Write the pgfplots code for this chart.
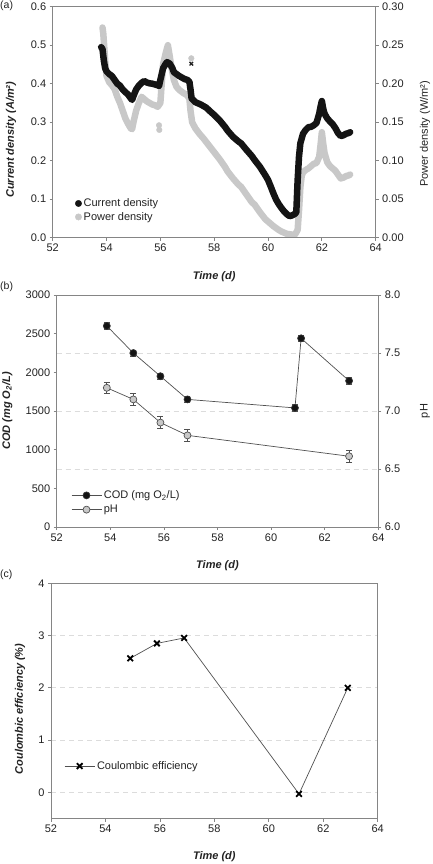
\documentclass[border=0pt]{standalone}
\usepackage{pgfplots}
\pgfplotsset{compat=1.18}
\usepackage{fontspec}
\setmainfont{Liberation Sans}
\definecolor{axgray}{HTML}{858585}
\definecolor{lgray}{HTML}{C8C8C8}
\definecolor{lingray}{HTML}{505050}
\definecolor{gridgray}{HTML}{DCDCDC}
\definecolor{txt}{HTML}{222222}

\pgfplotstableread{
x y
53.80 0.495
53.85 0.490
53.90 0.460
53.95 0.440
54.00 0.432
54.10 0.425
54.20 0.420
54.30 0.410
54.40 0.400
54.50 0.395
54.60 0.385
54.70 0.378
54.80 0.372
54.90 0.362
54.95 0.358
55.00 0.368
55.10 0.385
55.20 0.395
55.30 0.402
55.40 0.407
55.50 0.403
55.60 0.401
55.70 0.400
55.80 0.398
55.90 0.396
55.95 0.394
56.00 0.410
56.05 0.425
56.10 0.440
56.20 0.452
56.25 0.456
56.35 0.452
56.45 0.440
56.50 0.430
56.60 0.425
56.70 0.420
56.80 0.416
56.90 0.412
57.00 0.410
57.08 0.405
57.12 0.385
57.16 0.362
57.30 0.352
57.50 0.346
57.70 0.338
57.90 0.325
58.00 0.319
58.20 0.305
58.40 0.288
58.50 0.278
58.70 0.262
58.90 0.250
59.00 0.245
59.20 0.228
59.40 0.212
59.50 0.202
59.70 0.184
59.90 0.162
60.00 0.150
60.10 0.133
60.20 0.115
60.30 0.099
60.40 0.087
60.50 0.077
60.60 0.068
60.70 0.061
60.80 0.056
60.90 0.058
61.00 0.062
61.05 0.066
61.10 0.150
61.15 0.210
61.20 0.245
61.30 0.270
61.40 0.280
61.50 0.287
61.60 0.288
61.70 0.292
61.80 0.298
61.85 0.310
61.90 0.322
61.95 0.340
62.00 0.355
62.05 0.335
62.10 0.322
62.20 0.310
62.30 0.302
62.40 0.295
62.50 0.285
62.60 0.272
62.70 0.264
62.80 0.266
62.90 0.270
63.00 0.272
63.05 0.274
}\currenttab

\pgfplotstableread{
x y
53.85 0.273
53.88 0.265
53.92 0.245
53.96 0.225
54.00 0.210
54.10 0.202
54.20 0.198
54.30 0.193
54.40 0.183
54.50 0.175
54.60 0.165
54.70 0.155
54.80 0.148
54.90 0.142
54.95 0.141
55.00 0.150
55.10 0.165
55.20 0.175
55.30 0.183
55.40 0.180
55.50 0.177
55.60 0.175
55.70 0.173
55.80 0.172
55.90 0.170
56.00 0.175
56.05 0.200
56.10 0.225
56.20 0.240
56.28 0.250
56.35 0.235
56.42 0.220
56.50 0.205
56.60 0.196
56.70 0.192
56.85 0.188
57.00 0.185
57.08 0.180
57.12 0.165
57.18 0.150
57.30 0.142
57.45 0.135
57.60 0.129
57.80 0.120
58.00 0.111
58.20 0.102
58.40 0.092
58.50 0.086
58.70 0.077
58.90 0.069
59.00 0.066
59.20 0.056
59.40 0.046
59.50 0.043
59.70 0.033
59.90 0.024
60.00 0.021
60.20 0.015
60.40 0.010
60.50 0.008
60.70 0.005
60.90 0.004
61.00 0.004
61.10 0.010
61.15 0.035
61.20 0.065
61.25 0.080
61.30 0.085
61.40 0.088
61.50 0.090
61.60 0.093
61.70 0.096
61.80 0.097
61.90 0.105
61.95 0.120
62.00 0.137
62.05 0.122
62.10 0.110
62.20 0.098
62.30 0.093
62.40 0.090
62.50 0.087
62.60 0.082
62.70 0.077
62.80 0.078
62.90 0.080
63.00 0.081
63.05 0.082
}\powertab

\pgfplotstableread{
x y e
53.87 2600 40
54.86 2250 40
55.87 1950 40
56.88 1650 40
60.89 1540 40
61.12 2440 40
62.91 1890 40
}\codtab

\pgfplotstableread{
x y e
53.87 7.20 0.05
54.86 7.10 0.05
55.87 6.90 0.05
56.88 6.79 0.05
62.91 6.61 0.05
}\phtab

\pgfplotstableread{
x y
54.91 2.565
55.89 2.85
56.89 2.955
61.11 -0.03
62.90 2.00
}\cetab

\pgfplotsset{
  every axis/.append style={
    scale only axis,
    axis line style={axgray, line width=0.8pt},
    tick style={axgray, line width=0.8pt},
    major tick length=3pt,
    tick align=outside,
    tick label style={font=\fontsize{11}{13}\selectfont, text=txt},
    label style={font=\fontsize{11}{13}\selectfont\bfseries\itshape, text=txt},
    /pgf/number format/assume math mode=true,
    xmin=52, xmax=64, xtick={52,54,...,64},
    legend style={draw=none, fill=none, font=\fontsize{11}{13}\selectfont, text=txt},
    legend cell align=left,
  },
}

\begin{document}
\begin{tikzpicture}[x=1pt,y=1pt]
\path[use as bounding box] (0,0) rectangle (432,-864);

\node[anchor=west, inner sep=0pt, font=\fontsize{10.5}{12}\selectfont, text=txt] at (0,-6) {(a)};
\node[anchor=west, inner sep=0pt, font=\fontsize{10.5}{12}\selectfont, text=txt] at (0,-287) {(b)};
\node[anchor=west, inner sep=0pt, font=\fontsize{10.5}{12}\selectfont, text=txt] at (0,-575) {(c)};

% ---------- panel (a) ----------
\begin{axis}[at={(52.7pt,-237.7pt)}, anchor=south west, width=323pt, height=231pt,
  ymin=0, ymax=0.3, axis x line=none, axis y line*=right,
  ytick={0,0.05,...,0.31},
  yticklabel style={/pgf/number format/.cd, fixed, fixed zerofill, precision=2},
  ylabel={Power density (W/m²)},
  ylabel style={at={(axis description cs:1.153,0.45)}, anchor=center, font=\fontsize{11}{13}\selectfont},
]
\addplot[lgray, line width=6.5pt, line join=round, line cap=round] table[x=x,y=y] {\powertab};
\addplot[only marks, mark=*, mark size=2.8pt, lgray] coordinates {(55.95,0.146) (55.96,0.140) (57.15,0.233)};
\end{axis}

\begin{axis}[at={(52.7pt,-237.7pt)}, anchor=south west, width=323pt, height=231pt,
  ymin=0, ymax=0.6, ytick={0,0.1,...,0.61},
  ytick pos=left, xtick pos=bottom,
  yticklabel style={/pgf/number format/.cd, fixed, fixed zerofill, precision=1},
  xlabel={Time (d)}, ylabel={Current density (A/m²)},
  xlabel style={at={(axis description cs:0.5,-0.169)}, anchor=center},
  ylabel style={at={(axis description cs:-0.129,0.424)}, anchor=center},
  legend style={at={(axis description cs:0.06,0.119)}, anchor=west, row sep=0pt},
  legend image code/.code={\draw[#1] plot coordinates {(3pt,0pt)};},
]
\addplot[black!92, line width=6.5pt, line join=round, line cap=round, forget plot] table[x=x,y=y] {\currenttab};
\addplot[only marks, mark=x, mark size=2.5pt, mark options={line width=1.3pt}, black!85, forget plot] coordinates {(57.15,0.452)};
\addlegendimage{only marks, mark=*, mark size=3.2pt, black!92}
\addlegendentry{Current density}
\addlegendimage{only marks, mark=*, mark size=3.2pt, lgray}
\addlegendentry{Power density}
\end{axis}

% ---------- panel (b) ----------
\begin{axis}[at={(56.7pt,-527pt)}, anchor=south west, width=321.6pt, height=232pt,
  ymin=6, ymax=8, ytick={6,6.5,...,8.01}, axis x line=none, axis y line*=right,
  yticklabel style={/pgf/number format/.cd, fixed, fixed zerofill, precision=1},
  ymajorgrids, major grid style={gridgray, dash pattern=on 5pt off 4pt, line width=0.8pt},
  ylabel={pH},
  ylabel style={at={(axis description cs:1.145,0.5)}, anchor=center, font=\fontsize{11}{13}\selectfont},
]
\addplot[lingray, line width=0.7pt, mark=*, mark size=3.5pt,
  mark options={fill=lgray, draw=lingray, line width=0.7pt},
  error bars/.cd, y dir=both, y explicit,
  error bar style={lingray, line width=0.7pt},
  error mark options={rotate=90, mark size=3pt, lingray, line width=0.7pt}]
  table[x=x,y=y,y error=e] {\phtab};
\end{axis}

\begin{axis}[at={(56.7pt,-527pt)}, anchor=south west, width=321.6pt, height=232pt,
  ymin=0, ymax=3000, ytick={0,500,...,3000},
  ytick pos=left, xtick pos=bottom,
  scaled y ticks=false,
  yticklabel style={/pgf/number format/.cd, fixed, 1000 sep={}},
  xlabel={Time (d)}, ylabel={COD (mg O\textsubscript{2}/L)},
  xlabel style={at={(axis description cs:0.5,-0.168)}, anchor=center},
  ylabel style={at={(axis description cs:-0.154,0.5)}, anchor=center},
  legend style={at={(axis description cs:0.035,0.106)}, anchor=west, row sep=1pt},
  legend image code/.code={\draw[mark repeat=2,mark phase=2,#1] plot coordinates {(0pt,0pt) (15pt,0pt) (30pt,0pt)};},
]
\addplot[lingray, line width=0.7pt, mark=*, mark size=3.5pt,
  mark options={fill=black!92, draw=black!80, line width=0.7pt},
  error bars/.cd, y dir=both, y explicit,
  error bar style={lingray, line width=0.7pt},
  error mark options={rotate=90, mark size=3pt, lingray, line width=0.7pt}]
  table[x=x,y=y,y error=e] {\codtab};
\addlegendentry{COD (mg O\textsubscript{2}/L)}
\addlegendimage{lingray, line width=0.7pt, mark=*, mark size=3.5pt, mark options={fill=lgray, draw=lingray, line width=0.7pt}}
\addlegendentry{pH}
\end{axis}

% ---------- panel (c) ----------
\begin{axis}[at={(51pt,-818.5pt)}, anchor=south west, width=326.7pt, height=235.2pt,
  ymin=-0.5, ymax=4, ytick={0,1,...,4},
  ytick pos=left, xtick pos=bottom,
  ymajorgrids, major grid style={gridgray, dash pattern=on 5pt off 4pt, line width=0.8pt},
  xlabel={Time (d)}, ylabel={Coulombic efficiency (\%)},
  xlabel style={at={(axis description cs:0.5,-0.164)}, anchor=center},
  ylabel style={at={(axis description cs:-0.095,0.466)}, anchor=center},
  legend style={at={(axis description cs:0.031,0.223)}, anchor=west},
  legend image code/.code={\draw[mark repeat=2,mark phase=2,#1] plot coordinates {(0pt,0pt) (15pt,0pt) (30pt,0pt)};},
]
\addplot[lingray, line width=0.7pt, mark=x, mark size=4pt,
  mark options={black, line width=1.8pt}]
  table[x=x,y=y] {\cetab};
\addlegendentry{Coulombic efficiency}
\end{axis}
\end{tikzpicture}
\end{document}
